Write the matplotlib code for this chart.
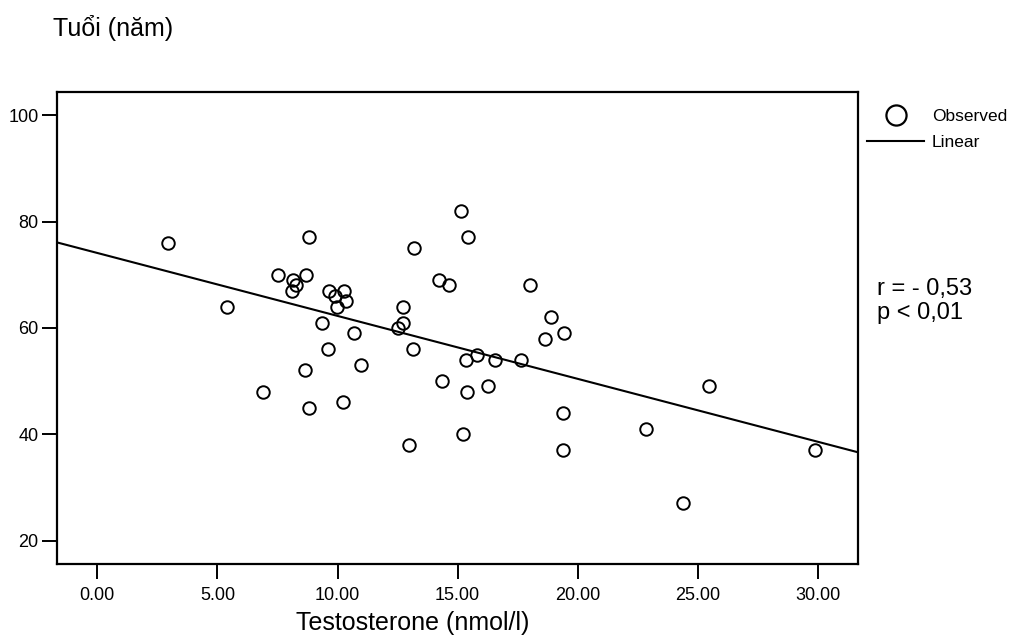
import numpy as np
import matplotlib.pyplot as plt
from matplotlib.lines import Line2D

plt.rcParams['font.family'] = ['Liberation Sans', 'DejaVu Sans']

# Testosterone (nmol/l) vs Tuổi (năm)
testo = [2.96, 5.40, 6.91, 7.51, 8.12, 8.16, 8.26, 8.65, 8.68, 8.80,
         8.83, 9.35, 9.59, 9.66, 9.90, 9.97, 10.22, 10.26, 10.34, 10.69,
         10.97, 12.50, 12.71, 12.71, 12.98, 13.16, 13.20, 14.24, 14.34, 14.66,
         15.14, 15.24, 15.33, 15.40, 15.42, 15.79, 16.28, 16.57, 17.64, 18.01,
         18.64, 18.90, 19.40, 19.40, 19.42, 22.84, 24.40, 25.48, 29.88]
age = [76, 64, 48, 70, 67, 69, 68, 52, 70, 77,
       45, 61, 56, 67, 66, 64, 46, 67, 65, 59,
       53, 60, 61, 64, 38, 56, 75, 69, 50, 68,
       82, 40, 54, 48, 77, 55, 49, 54, 54, 68,
       58, 62, 44, 37, 59, 41, 27, 49, 37]

xticks = [0, 5, 10, 15, 20, 25, 30]
yticks = [20, 40, 60, 80, 100]
xlim = (-1.69, 31.68)
ylim = (15.56, 104.4)

fig = plt.figure(figsize=(10.15, 6.37), dpi=100)
ax = fig.add_axes([0.0559, 0.1141, 0.7897, 0.7419])

ax.plot(testo, age, 'o', mfc='none', mec='black', ms=9, mew=1.4, ls='none')

# duong hoi quy tuyen tinh
b, a = np.polyfit(testo, age, 1)
xs = np.array(xlim)
ax.plot(xs, a + b * xs, color='black', lw=1.5)

ax.set_xlim(*xlim)
ax.set_ylim(*ylim)
ax.set_xticks(xticks)
ax.set_xticklabels(['%.2f' % v for v in xticks])
ax.set_yticks(yticks)
ax.tick_params(axis='x', length=11, width=1.4, labelsize=13, pad=5)
ax.tick_params(axis='y', length=11, width=1.4, labelsize=13, pad=2)
for s in ax.spines.values():
    s.set_linewidth(1.6)

ax.set_xlabel('Testosterone (nmol/l)', fontsize=18)
ax.xaxis.label.set_va('baseline')
ax.xaxis.set_label_coords(0.444, -0.139)

fig.text(0.052, 1 - 36 / 637, 'Tuổi (năm)', fontsize=18, va='baseline')

handles = [Line2D([], [], marker='o', mfc='none', mec='black', ms=14.5, mew=1.6, ls='none'),
           Line2D([], [], color='black', lw=1.5)]
fig.legend(handles, ['Observed', 'Linear'], loc='upper left',
           bbox_to_anchor=(867 / 1015, 1 - 109 / 637),
           frameon=False, fontsize=12.5, handlelength=3.3, handletextpad=0.45,
           labelspacing=0.62, borderpad=0, borderaxespad=0)

fig.text(877 / 1015, 1 - 301 / 637, 'r = - 0,53\np < 0,01', fontsize=17,
         va='center', linespacing=1.1)

fig.savefig('out.png', dpi=100)
